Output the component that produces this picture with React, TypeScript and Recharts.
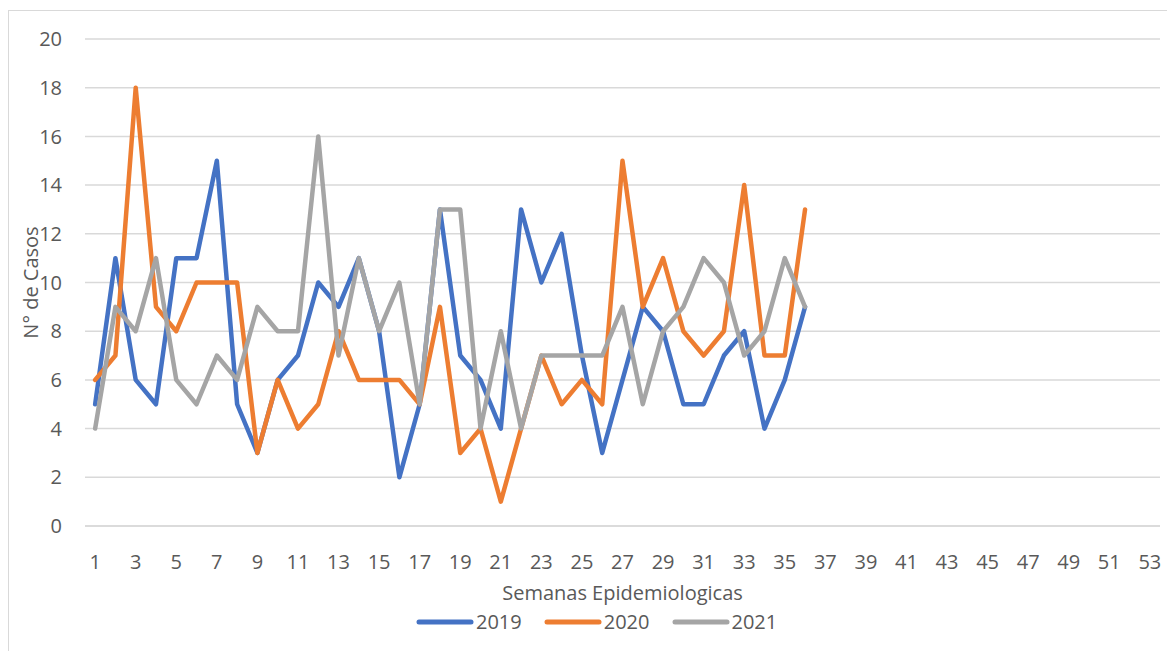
import { LineChart, Line, XAxis, YAxis, CartesianGrid, Legend } from "recharts"

const semanas = Array.from({ length: 53 }, (_, i) => String(i + 1))

const casos2019 = [5, 11, 6, 5, 11, 11, 15, 5, 3, 6, 7, 10, 9, 11, 8, 2, 5, 13, 7, 6, 4, 13, 10, 12, 7, 3, 6, 9, 8, 5, 5, 7, 8, 4, 6, 9]
const casos2020 = [6, 7, 18, 9, 8, 10, 10, 10, 3, 6, 4, 5, 8, 6, 6, 6, 5, 9, 3, 4, 1, 4, 7, 5, 6, 5, 15, 9, 11, 8, 7, 8, 14, 7, 7, 13]
const casos2021 = [4, 9, 8, 11, 6, 5, 7, 6, 9, 8, 8, 16, 7, 11, 8, 10, 5, 13, 13, 4, 8, 4, 7, 7, 7, 7, 9, 5, 8, 9, 11, 10, 7, 8, 11, 9]

const yTicks = [0, 2, 4, 6, 8, 10, 12, 14, 16, 18, 20]

const SERIES = [
  { key: "2019", color: "#4472C4" },
  { key: "2020", color: "#ED7D31" },
  { key: "2021", color: "#A5A5A5" },
]

const data = semanas.map((s, i) => ({
  semana: s,
  "2019": casos2019[i] ?? null,
  "2020": casos2020[i] ?? null,
  "2021": casos2021[i] ?? null,
}))

const textColor = "#595959"

function LegendContent() {
  return (
    <div style={{ display: "flex", alignItems: "center" }}>
      {SERIES.map((s) => (
        <div key={s.key} style={{ display: "flex", alignItems: "center", marginRight: 22 }}>
          <svg width={58} height={10} style={{ marginRight: 2 }}>
            <line x1={3} y1={5} x2={55} y2={5} stroke={s.color} strokeWidth={5} strokeLinecap="round" />
          </svg>
          <span style={{ fontSize: 20, color: textColor, lineHeight: "18px" }}>{s.key}</span>
        </div>
      ))}
    </div>
  )
}

export default function App() {
  return (
    <div
      style={{
        width: 1166,
        height: 641,
        marginTop: 2,
        borderLeft: "1px solid #d9d9d9",
        borderTop: "1px solid #d9d9d9",
        fontFamily: "'Open Sans', sans-serif",
        background: "#fff",
      }}
    >
      <LineChart width={1166} height={641} data={data} margin={{ top: 28, right: 15, left: 0, bottom: 0 }}>
        <CartesianGrid horizontal vertical={false} stroke="#d9d9d9" strokeWidth={1.5} />
        <XAxis
          dataKey="semana"
          interval={1}
          padding={{ left: 10.14, right: 10.14 }}
          height={126}
          axisLine={{ stroke: "#d9d9d9", strokeWidth: 1.5 }}
          tickLine={false}
          tickMargin={23}
          tick={{ fontSize: 20, fill: textColor }}
          label={{
            value: "Semanas Epidemiologicas",
            position: "insideBottom",
            offset: 52,
            style: { fontSize: 20, fill: textColor },
          }}
        />
        <YAxis
          width={76}
          domain={[0, 20]}
          ticks={yTicks}
          axisLine={false}
          tickLine={false}
          tickMargin={17}
          tick={{ fontSize: 20, fill: textColor }}
          label={{
            value: "N° de Casos",
            angle: -90,
            position: "insideLeft",
            offset: 22,
            style: { fontSize: 20, fill: textColor, textAnchor: "middle" },
          }}
        />
        <Legend
          layout="horizontal"
          verticalAlign="middle"
          align="center"
          content={<LegendContent />}
          wrapperStyle={{ top: 602, left: 407, width: 500 }}
        />
        {SERIES.map((s) => (
          <Line
            key={s.key}
            type="linear"
            dataKey={s.key}
            stroke={s.color}
            strokeWidth={4.5}
            strokeLinejoin="round"
            strokeLinecap="round"
            dot={false}
            activeDot={false}
            isAnimationActive={false}
          />
        ))}
      </LineChart>
    </div>
  )
}
